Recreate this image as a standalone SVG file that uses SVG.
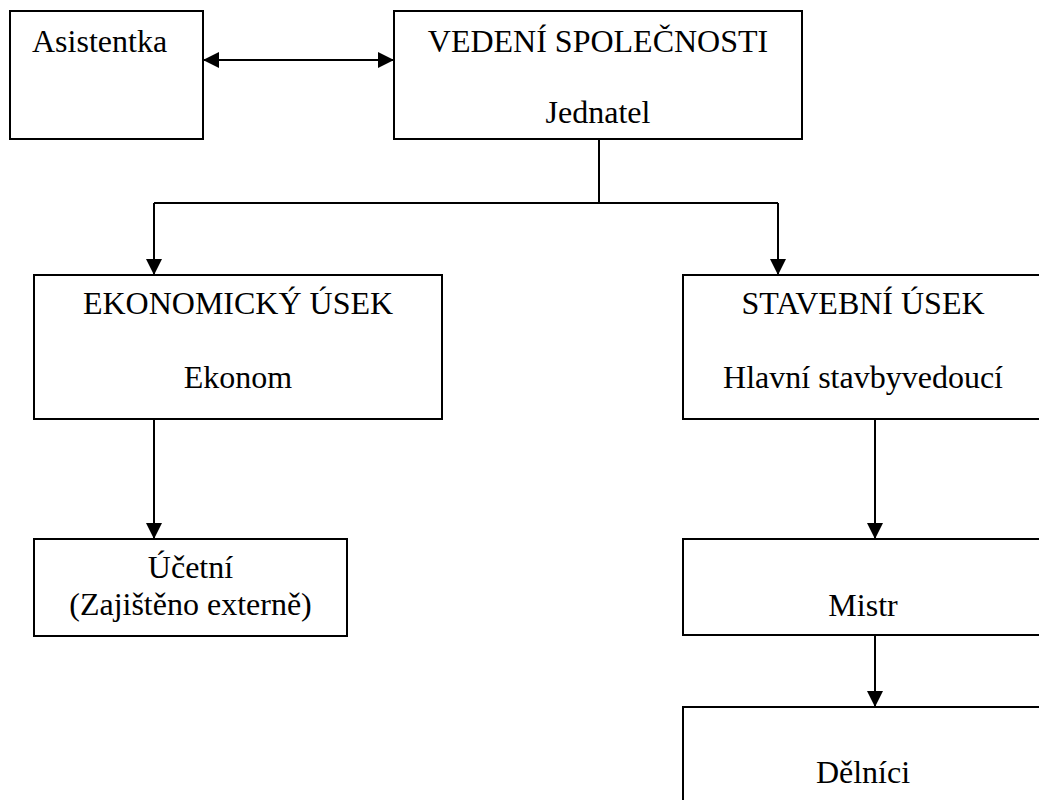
<svg xmlns="http://www.w3.org/2000/svg" width="1039" height="800" viewBox="0 0 1039 800">
  <style>
    .box { fill: #ffffff; stroke: #000000; stroke-width: 2; }
    .lbl { font-family: "Liberation Serif", "Times New Roman", serif; font-size: 32px; fill: #000000; }
    .mid { text-anchor: middle; }
    .conn { fill: none; stroke: #000000; stroke-width: 2; }
  </style>
  <defs>
    <marker id="arrow" viewBox="0 0 16 16" refX="16" refY="8" markerWidth="16" markerHeight="16" markerUnits="userSpaceOnUse" orient="auto-start-reverse">
      <path d="M0,0 L16,8 L0,16 Z" fill="#000000"/>
    </marker>
  </defs>
  <rect x="0" y="0" width="1039" height="800" fill="#ffffff"/>

  <g id="asistentka">
    <rect class="box" x="10" y="11" width="193" height="128"/>
    <text class="lbl" x="32" y="52">Asistentka</text>
  </g>

  <g id="vedeni">
    <rect class="box" x="394" y="11" width="408" height="128"/>
    <text class="lbl mid" x="598" y="52">VEDENÍ SPOLEČNOSTI</text>
    <text class="lbl mid" x="598" y="123">Jednatel</text>
  </g>

  <g id="ekonomicky">
    <rect class="box" x="34" y="275" width="408" height="144"/>
    <text class="lbl mid" x="238" y="314">EKONOMICKÝ ÚSEK</text>
    <text class="lbl mid" x="238" y="388">Ekonom</text>
  </g>

  <g id="stavebni">
    <rect class="box" x="683" y="275" width="360" height="144"/>
    <text class="lbl mid" x="863" y="314">STAVEBNÍ ÚSEK</text>
    <text class="lbl mid" x="863" y="388">Hlavní stavbyvedoucí</text>
  </g>

  <g id="ucetni">
    <rect class="box" x="34" y="539" width="313" height="97"/>
    <text class="lbl mid" x="190.5" y="578">Účetní</text>
    <text class="lbl mid" x="190.5" y="615">(Zajištěno externě)</text>
  </g>

  <g id="mistr">
    <rect class="box" x="683" y="539" width="360" height="96"/>
    <text class="lbl mid" x="863" y="616">Mistr</text>
  </g>

  <g id="delnici">
    <rect class="box" x="683" y="707" width="360" height="120"/>
    <text class="lbl mid" x="863" y="783">Dělníci</text>
  </g>

  <g id="connectors">
    <line class="conn" x1="203" y1="60" x2="394" y2="60" marker-start="url(#arrow)" marker-end="url(#arrow)"/>
    <line class="conn" x1="599" y1="139" x2="599" y2="203"/>
    <line class="conn" x1="154" y1="203" x2="778" y2="203"/>
    <line class="conn" x1="154" y1="203" x2="154" y2="275" marker-end="url(#arrow)"/>
    <line class="conn" x1="778" y1="203" x2="778" y2="275" marker-end="url(#arrow)"/>
    <line class="conn" x1="154" y1="419" x2="154" y2="539" marker-end="url(#arrow)"/>
    <line class="conn" x1="875" y1="419" x2="875" y2="539" marker-end="url(#arrow)"/>
    <line class="conn" x1="875" y1="635" x2="875" y2="707" marker-end="url(#arrow)"/>
  </g>
</svg>
